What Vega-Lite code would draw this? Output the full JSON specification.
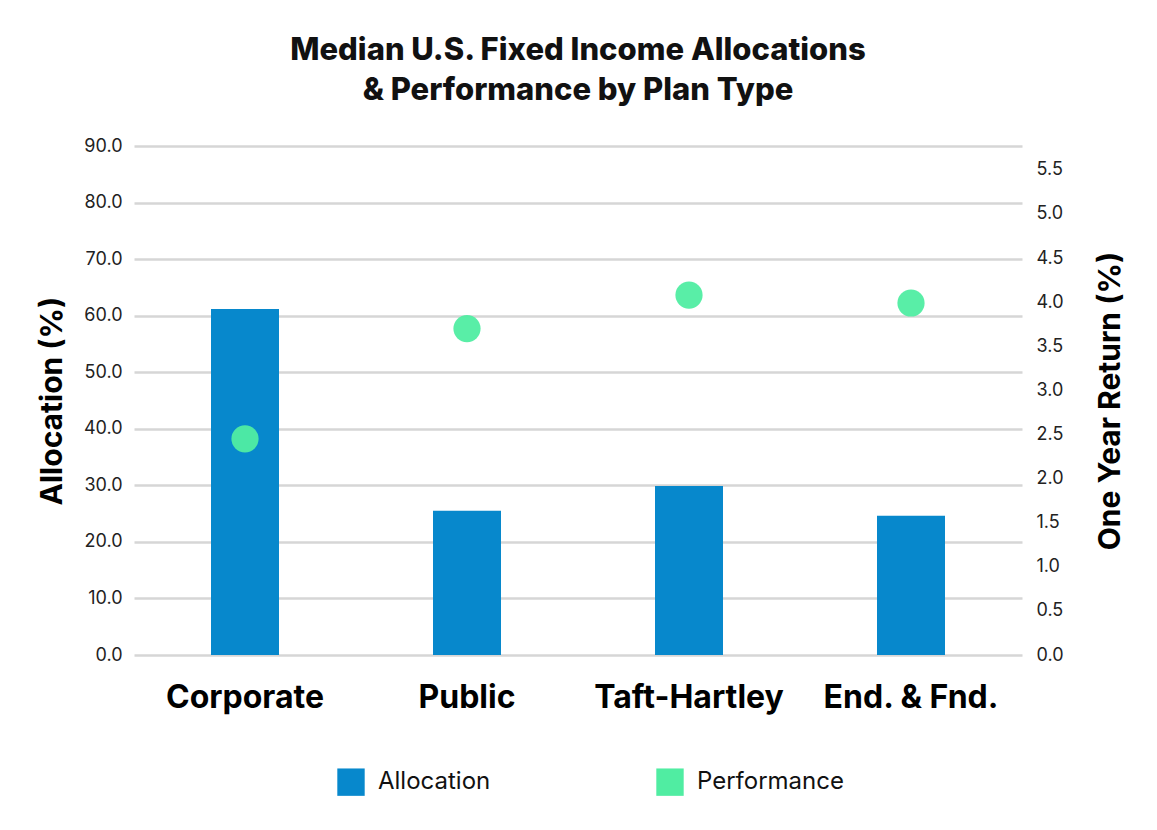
{
  "$schema": "https://vega.github.io/schema/vega-lite/v6.json",
  "width": 888,
  "height": 509,
  "autosize": {"type": "none"},
  "padding": {"left": 134, "top": 146, "right": 135, "bottom": 175},
  "background": "white",
  "title": {
    "text": ["Median U.S. Fixed Income Allocations", "& Performance by Plan Type"],
    "font": "Inter",
    "fontSize": 31,
    "fontWeight": 800,
    "color": "#111111",
    "lineHeight": 40,
    "anchor": "middle",
    "offset": 30
  },
  "config": {
    "view": {"stroke": null},
    "font": "Inter",
    "axis": {"labelFont": "Inter", "titleFont": "Inter"}
  },
  "data": {
    "values": [
      {"type": "Corporate", "series": "Allocation", "value": 61.2},
      {"type": "Public", "series": "Allocation", "value": 25.5},
      {"type": "Taft-Hartley", "series": "Allocation", "value": 29.9},
      {"type": "End. & Fnd.", "series": "Allocation", "value": 24.6},
      {"type": "Corporate", "series": "Performance", "value": 2.45},
      {"type": "Public", "series": "Performance", "value": 3.70},
      {"type": "Taft-Hartley", "series": "Performance", "value": 4.08},
      {"type": "End. & Fnd.", "series": "Performance", "value": 3.99}
    ]
  },
  "encoding": {
    "x": {
      "field": "type",
      "type": "nominal",
      "sort": ["Corporate", "Public", "Taft-Hartley", "End. & Fnd."],
      "scale": {"paddingInner": 0.2, "paddingOuter": 0.1},
      "axis": {
        "title": null,
        "labelAngle": 0,
        "labelFontSize": 32,
        "labelFontWeight": "bold",
        "labelColor": "#000000",
        "labelPadding": 27,
        "labelLimit": 400,
        "labelOverlap": false,
        "domain": false,
        "ticks": false,
        "grid": false
      }
    },
    "color": {
      "field": "series",
      "type": "nominal",
      "scale": {"domain": ["Allocation", "Performance"], "range": ["#0788cc", "#50eda2"]},
      "legend": {
        "title": null,
        "orient": "none",
        "legendX": 203,
        "legendY": 622,
        "direction": "horizontal",
        "symbolType": "square",
        "symbolSize": 750,
        "symbolStrokeWidth": 0,
        "symbolOpacity": 1,
        "labelFontSize": 24,
        "labelFont": "Inter",
        "labelColor": "#111111",
        "labelOffset": 13,
        "columnPadding": 165
      }
    }
  },
  "layer": [
    {
      "transform": [{"filter": "datum.series === 'Allocation'"}],
      "mark": {"type": "bar", "size": 68},
      "encoding": {
        "y": {
          "field": "value",
          "type": "quantitative",
          "scale": {"domain": [0, 90], "nice": false},
          "axis": {
            "title": "Allocation (%)",
            "titleFontSize": 30,
            "titleFontWeight": "bold",
            "titleColor": "#000000",
            "titlePadding": 16,
            "values": [0, 10, 20, 30, 40, 50, 60, 70, 80, 90],
            "format": ".1f",
            "labelFontSize": 18,
            "labelColor": "#222222",
            "labelPadding": 12,
            "domain": false,
            "ticks": false,
            "grid": true,
            "gridColor": "#d6d6d6",
            "gridWidth": 2.5
          }
        }
      }
    },
    {
      "transform": [{"filter": "datum.series === 'Performance'"}],
      "mark": {"type": "point", "filled": true, "shape": "circle", "size": 740, "opacity": 0.95},
      "encoding": {
        "y": {
          "field": "value",
          "type": "quantitative",
          "scale": {"domain": [0, 5.77], "nice": false, "zero": true},
          "axis": {
            "orient": "right",
            "title": "One Year Return (%)",
            "titleFontSize": 30,
            "titleFontWeight": "bold",
            "titleColor": "#000000",
            "titleAngle": 270,
            "titlePadding": 62,
            "values": [0, 0.5, 1, 1.5, 2, 2.5, 3, 3.5, 4, 4.5, 5, 5.5],
            "format": ".1f",
            "labelFontSize": 18,
            "labelColor": "#222222",
            "labelPadding": 14,
            "domain": false,
            "ticks": false,
            "grid": false
          }
        }
      }
    }
  ],
  "resolve": {"scale": {"y": "independent"}}
}
